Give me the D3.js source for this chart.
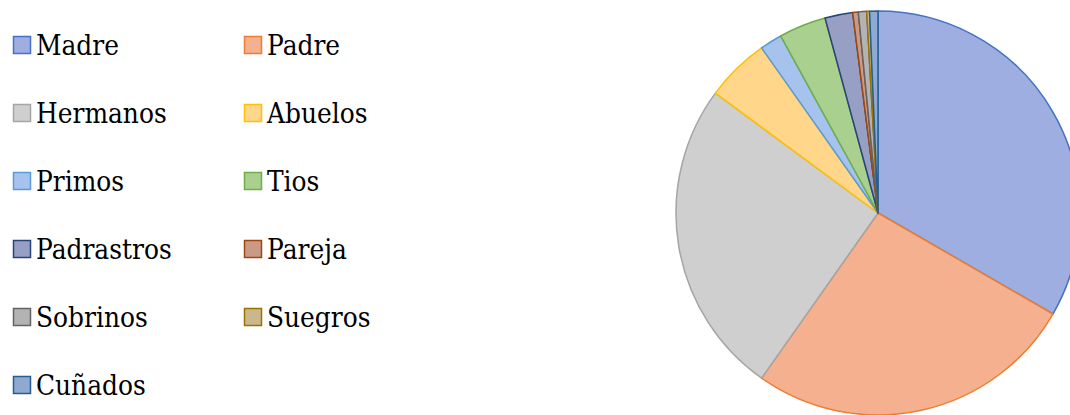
<!DOCTYPE html>
<html>
<head>
<meta charset="utf-8">
<script src="https://cdn.jsdelivr.net/npm/d3@7"></script>
<style>
  html, body { margin: 0; padding: 0; background: #fff; }
  svg { display: block; }
  .legend-label { font-family: "DejaVu Serif", serif; }
</style>
</head>
<body>
<svg id="chart" width="1070" height="415"></svg>
<script>
// Relatives named (count of responses)
const categories = ["Madre", "Padre", "Hermanos", "Abuelos", "Primos", "Tios",
                    "Padrastros", "Pareja", "Sobrinos", "Suegros", "Cuñados"];
const values = [150, 119, 114, 23, 8, 17, 10, 2, 3, 1, 3];

// Slice fill and outline colours
const fills = ["#9eaee0", "#f5b08f", "#cfcfcf", "#ffd68a", "#a5c3ec", "#a9d08e",
               "#97a0c4", "#c99a88", "#b3b3b3", "#cbb78e", "#8eaad2"];
const strokes = ["#4472c4", "#ed7d31", "#a5a5a5", "#ffc000", "#5b9bd5", "#70ad47",
                 "#264478", "#9e480e", "#636363", "#997300", "#255e91"];

const svg = d3.select("#chart");

// Pie
const cx = 878, cy = 213, r = 202;
const pie = d3.pie().sort(null).value(d => d.v);
const arc = d3.arc().innerRadius(0).outerRadius(r);
const data = categories.map((c, i) => ({ c, v: values[i], i }));

svg.append("g")
  .attr("transform", `translate(${cx},${cy})`)
  .selectAll("path")
  .data(pie(data))
  .join("path")
  .attr("d", arc)
  .attr("fill", d => fills[d.data.i])
  .attr("stroke", d => strokes[d.data.i])
  .attr("stroke-width", 1.5)
  .attr("stroke-linejoin", "round");

// Legend: two columns, rows filled left to right
const colX = [13, 244];
const rowY = d3.range(6).map(k => 55 + k * 68);
const legend = svg.append("g");
const items = legend.selectAll("g")
  .data(data)
  .join("g")
  .attr("transform", d => `translate(${colX[d.i % 2]},${rowY[Math.floor(d.i / 2)]})`);

items.append("rect")
  .attr("x", 0.5).attr("y", -18.5)
  .attr("width", 17).attr("height", 17)
  .attr("fill", d => fills[d.i])
  .attr("stroke", d => strokes[d.i])
  .attr("stroke-width", 1.5);

// Serif labels, narrowed to a Times-like width
items.append("text")
  .attr("class", "legend-label")
  .attr("transform", "translate(23,0) scale(0.89,1)")
  .style("font-size", "28px")
  .attr("fill", "#000")
  .text(d => d.c);
</script>
</body>
</html>
